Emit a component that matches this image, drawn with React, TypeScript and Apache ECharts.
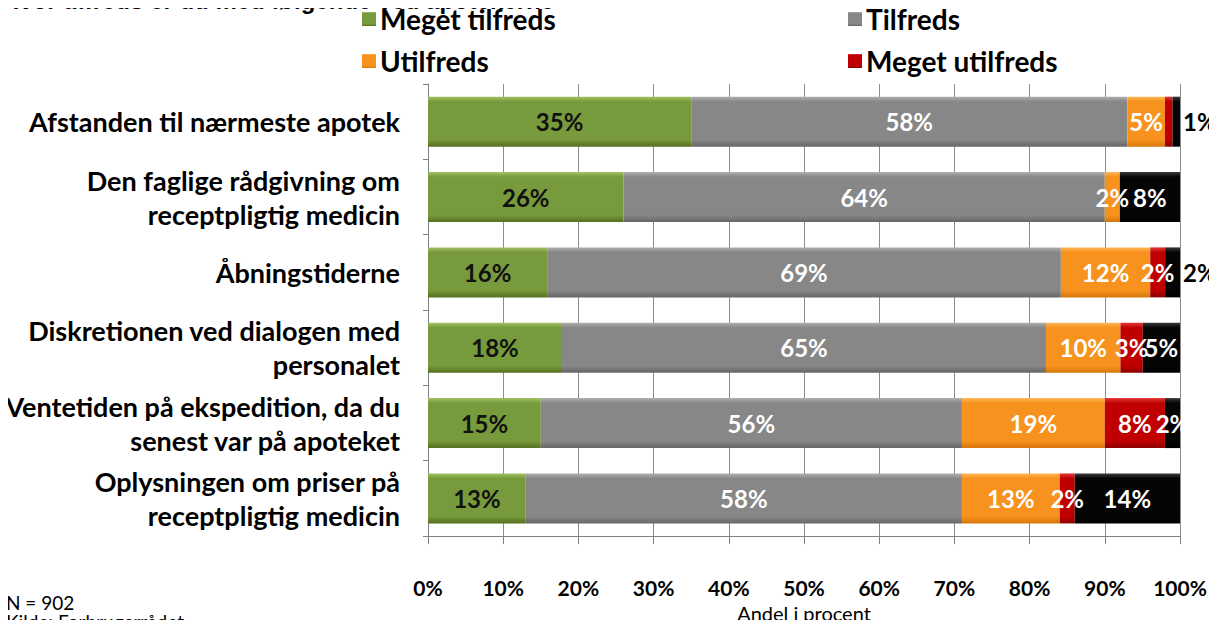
import React, { useEffect, useRef } from "react";
import * as echarts from "echarts";

const categories = [
  "Afstanden til nærmeste apotek",
  "Den faglige rådgivning om\nreceptpligtig medicin",
  "Åbningstiderne",
  "Diskretionen ved dialogen med\npersonalet",
  "Ventetiden på ekspedition, da du\nsenest var på apoteket",
  "Oplysningen om priser på\nreceptpligtig medicin",
];

const seriesNames = ["Meget tilfreds", "Tilfreds", "Utilfreds", "Meget utilfreds", "Ved ikke"];

const megetTilfreds = [35, 26, 16, 18, 15, 13];
const tilfreds = [58, 64, 69, 65, 56, 58];
const utilfreds = [5, 2, 12, 10, 19, 13];
const megetUtilfreds = [1, 0, 2, 3, 8, 2];
const vedIkke = [1, 8, 2, 5, 2, 14];

const xTicks = [0, 10, 20, 30, 40, 50, 60, 70, 80, 90, 100];

const titleText = "Hvor tilfreds er du med følgende ved apotekerne";
const noteN = "N = 902";
const noteSource = "Kilde: Forbrugerrådet";
const axisName = "Andel i procent";

const allValues = [megetTilfreds, tilfreds, utilfreds, megetUtilfreds, vedIkke];

const palette = [
  { light: "#a3c266", main: "#779a3c", dark: "#55701f", label: "#111111" },
  { light: "#b0b0b0", main: "#878787", dark: "#666666", label: "#ffffff" },
  { light: "#ffb655", main: "#f7921e", dark: "#d6760a", label: "#ffffff" },
  { light: "#e23a3a", main: "#c00000", dark: "#8a0000", label: "#ffffff" },
  { light: "#3a3a3a", main: "#050505", dark: "#000000", label: "#ffffff" },
];

// label overrides (style only): [seriesIndex, categoryIndex]
const hiddenLabels = [[3, 0], [3, 1]];
const outsideLabels = [[4, 0], [4, 2]];

const FONT = "Lato, 'Open Sans', sans-serif";

function grad(p: { light: string; main: string; dark: string }) {
  return new echarts.graphic.LinearGradient(0, 0, 0, 1, [
    { offset: 0, color: p.light },
    { offset: 0.1, color: p.main },
    { offset: 0.86, color: p.main },
    { offset: 1, color: p.dark },
  ]);
}

export default function App() {
  const ref = useRef<HTMLDivElement>(null);

  useEffect(() => {
    if (!ref.current) return;
    const chart = echarts.init(ref.current, null, { renderer: "svg" });

    const totals = categories.map((_, ci) =>
      allValues.reduce((s, arr) => s + arr[ci], 0)
    );

    const series = allValues.map((arr, si) => ({
      name: seriesNames[si],
      type: "bar",
      stack: "total",
      barWidth: 50,
      itemStyle: { color: grad(palette[si]) },
      label: {
        show: true,
        position: "inside",
        color: palette[si].label,
        fontFamily: FONT,
        fontWeight: "bold",
        fontSize: 24,
        formatter: (p: any) => `${arr[p.dataIndex]}%`,
      },
      data: arr.map((v, ci) => {
        const item: any = { value: (v / totals[ci]) * 100 };
        if (v === 0 || hiddenLabels.some(([s, c]) => s === si && c === ci)) {
          item.label = { show: false };
        } else if (outsideLabels.some(([s, c]) => s === si && c === ci)) {
          item.label = { position: "right", distance: 3, color: "#000000" };
        }
        return item;
      }),
    }));

    const legendPos = [
      { left: 357, top: 0 },
      { left: 843, top: 0 },
      { left: 357, top: 42 },
      { left: 843, top: 42 },
    ];

    chart.setOption({
      animation: false,
      backgroundColor: "#ffffff",
      grid: { left: 428, right: 37, top: 84, height: 466 },
      legend: legendPos.map((pos, i) => ({
        ...pos,
        data: [seriesNames[i]],
        itemWidth: 14,
        itemHeight: 14,
        itemGap: 0,
        icon: "rect",
        textStyle: {
          fontFamily: FONT,
          fontWeight: "bold",
          fontSize: 28,
          color: "#000",
          padding: [0, 0, 0, -1],
        },
      })),
      xAxis: {
        type: "value",
        min: 0,
        max: 100,
        interval: 10,
        name: axisName,
        nameLocation: "middle",
        nameGap: 66,
        nameTextStyle: { fontFamily: FONT, fontSize: 20, color: "#000" },
        axisLine: { show: true, lineStyle: { color: "#7f7f7f", width: 1 } },
        axisTick: { show: true, length: 8, lineStyle: { color: "#7f7f7f" } },
        axisLabel: {
          margin: 41,
          fontFamily: FONT,
          fontSize: 21,
          fontWeight: "bold",
          color: "#000",
          formatter: (v: number) => (xTicks.includes(v) ? `${v}%` : ""),
        },
        splitLine: { show: true, lineStyle: { color: "#8c8c8c", width: 1 } },
      },
      yAxis: {
        type: "category",
        data: categories,
        inverse: true,
        axisLine: { show: true, lineStyle: { color: "#7f7f7f", width: 1 } },
        axisTick: { show: true, length: 5, lineStyle: { color: "#7f7f7f" } },
        axisLabel: {
          margin: 28,
          fontFamily: FONT,
          fontSize: 27,
          fontWeight: "bold",
          color: "#000",
          lineHeight: 34,
          align: "right",
        },
      },
      graphic: [
        {
          type: "text",
          x: 2,
          y: 12,
          style: {
            text: titleText,
            font: "bold 24px 'Liberation Sans', Arial, sans-serif",
            fill: "#000",
            verticalAlign: "bottom",
          },
        },
        {
          type: "text",
          x: 6,
          y: 602,
          style: { text: noteN, font: "19px Lato, sans-serif", fill: "#000", verticalAlign: "middle" },
        },
        {
          type: "text",
          x: 6,
          y: 621,
          style: { text: noteSource, font: "19px Lato, sans-serif", fill: "#000", verticalAlign: "middle" },
        },
      ],
      series,
    });

    return () => chart.dispose();
  }, []);

  return <div ref={ref} style={{ width: 1217, height: 628, margin: -8 }} />;
}
